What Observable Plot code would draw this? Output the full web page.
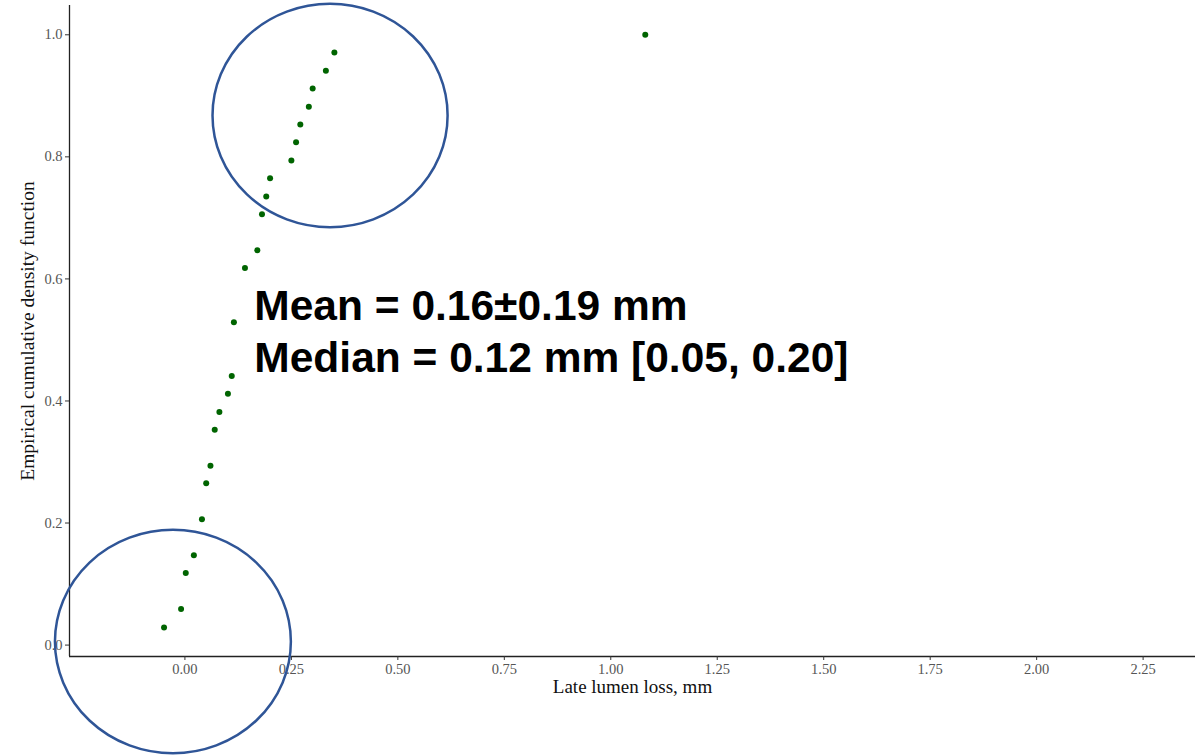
<!DOCTYPE html>
<html>
<head>
<meta charset="utf-8">
<script src="https://cdn.jsdelivr.net/npm/d3@7"></script>
<script src="https://cdn.jsdelivr.net/npm/@observablehq/plot@0.6"></script>
<style>
  html, body { margin: 0; padding: 0; background: #fff; }
  #chart svg { display: block; overflow: visible; }
</style>
</head>
<body>
<div id="chart"></div>
<script>
// Late lumen loss (mm) at each ECDF step, and the ECDF value
const lumenLoss = [-0.049, -0.009, 0.002, 0.021, 0.040, 0.050, 0.060, 0.070, 0.081, 0.101, 0.110, 0.115,
                   0.141, 0.170, 0.181, 0.191, 0.200, 0.250, 0.261, 0.271, 0.291, 0.300, 0.331, 0.351, 1.081];
const ecdfValue = [0.029, 0.059, 0.118, 0.147, 0.206, 0.265, 0.294, 0.353, 0.382, 0.412, 0.441, 0.529,
                   0.618, 0.647, 0.706, 0.735, 0.765, 0.794, 0.824, 0.853, 0.882, 0.912, 0.941, 0.971, 1.000];

const xTicks = [0, 0.25, 0.5, 0.75, 1, 1.25, 1.5, 1.75, 2, 2.25];
const yTicks = [0, 0.2, 0.4, 0.6, 0.8, 1.0];
const xDomain = [-0.271, 2.373];
const yDomain = [-0.0187, 1.048];

const xTitle = "Late lumen loss, mm";
const yTitle = "Empirical cumulative density function";

const annotLines = ["Mean = 0.16±0.19 mm", "Median = 0.12 mm [0.05, 0.20]"];
const annotX = [0.163, 0.163];
const annotY = [0.555, 0.469];

// highlight ellipses: centre x, centre y, radius x, radius y (data units)
const ellipseCx = [0.342, -0.027];
const ellipseCy = [0.867, 0.005];
const ellipseRx = [0.276, 0.277];
const ellipseRy = [0.183, 0.183];

const points = lumenLoss.map((x, i) => ({x, y: ecdfValue[i]}));
const annot = annotLines.map((t, i) => ({t, x: annotX[i], y: annotY[i]}));

const serif = "'Liberation Serif', 'Times New Roman', serif";

const chart = Plot.plot({
  width: 1203,
  height: 755,
  marginLeft: 69,
  marginRight: 8,
  marginTop: 5,
  marginBottom: 99,
  style: {fontFamily: serif, background: "white", overflow: "visible"},
  x: {domain: xDomain},
  y: {domain: yDomain},
  marks: [
    Plot.ruleX([xDomain[0]], {stroke: "#222", strokeWidth: 1.3}),
    Plot.ruleY([yDomain[0]], {stroke: "#222", strokeWidth: 1.3}),
    Plot.axisX({ticks: xTicks, tickFormat: d3.format(".2f"), tickSize: 4, tickPadding: 3,
                fontSize: 14.5, color: "#555", stroke: "#333", label: null}),
    Plot.axisY({ticks: yTicks, tickFormat: d3.format(".1f"), tickSize: 4, tickPadding: 3,
                fontSize: 14.5, color: "#555", stroke: "#333", label: null}),
    Plot.text([xTitle], {frameAnchor: "bottom", dy: 36, text: d => d, fontSize: 19,
                         fill: "#111", fontFamily: serif}),
    Plot.text([yTitle], {frameAnchor: "left", dx: -42, rotate: -90, textAnchor: "middle",
                         text: d => d, fontSize: 19.5, fill: "#111", fontFamily: serif}),
    Plot.dot(points, {x: "x", y: "y", r: 3, fill: "#006400", stroke: null}),
    Plot.text(annot, {x: "x", y: "y", text: "t", textAnchor: "start", fontSize: 42.5,
                      fontWeight: "bold", fontFamily: "'Liberation Sans', Arial, sans-serif",
                      fill: "#000", stroke: "white", strokeWidth: 14})
  ]
});

const xs = chart.scale("x"), ys = chart.scale("y");
const svg = d3.select(chart);
ellipseCx.forEach((cx, i) => {
  const px = xs.apply(cx), py = ys.apply(ellipseCy[i]);
  const rx = Math.abs(xs.apply(cx + ellipseRx[i]) - px);
  const ry = Math.abs(ys.apply(ellipseCy[i] + ellipseRy[i]) - py);
  svg.append("ellipse")
    .attr("cx", px).attr("cy", py).attr("rx", rx).attr("ry", ry)
    .attr("fill", "none").attr("stroke", "#2F5597").attr("stroke-width", 2.5);
});

document.getElementById("chart").appendChild(chart);
</script>
</body>
</html>
